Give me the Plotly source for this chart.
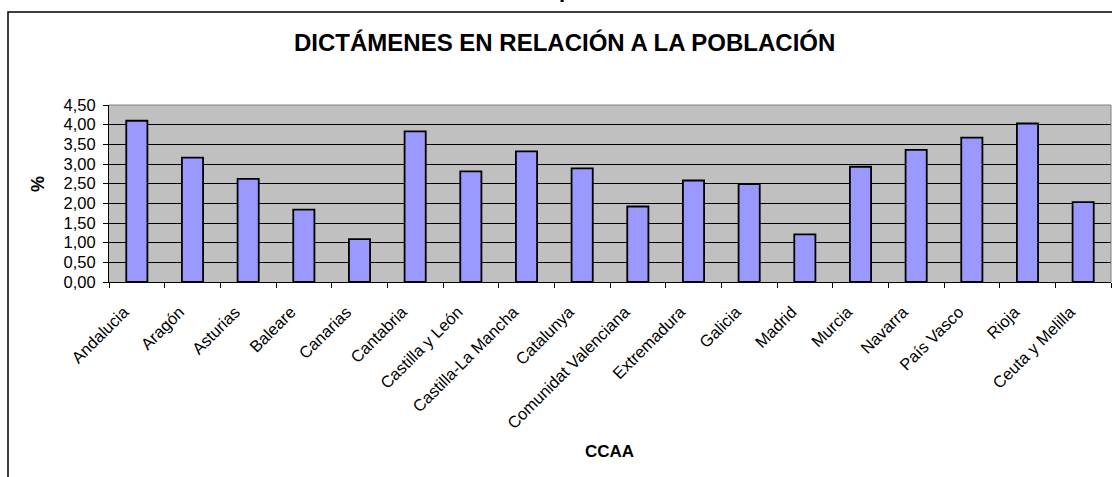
import plotly.graph_objects as go

categories = ["Andalucia", "Aragón", "Asturias", "Baleare", "Canarias", "Cantabria",
              "Castilla y León", "Castilla-La Mancha", "Catalunya", "Comunidat Valenciana",
              "Extremadura", "Galicia", "Madrid", "Murcia", "Navarra", "País Vasco",
              "Rioja", "Ceuta y Melilla"]
values = [4.10, 3.16, 2.62, 1.84, 1.09, 3.83, 2.81, 3.32, 2.89, 1.92,
          2.58, 2.49, 1.21, 2.93, 3.36, 3.67, 4.03, 2.03]
y_ticks = [0, 0.5, 1, 1.5, 2, 2.5, 3, 3.5, 4, 4.5]

W, H = 1112, 477
ML, MR, MT, MB = 109, 1, 105, 195
PW, PH = W - ML - MR, H - MT - MB


def px(x):
    return (x - ML) / PW


def py(y):
    return (H - MB - y) / PH


FONT = "Liberation Sans, Arial, sans-serif"
PAD = "\u00a0" * 4

fig = go.Figure(go.Bar(
    x=categories, y=values, width=0.38,
    marker=dict(color="#9999FF", line=dict(color="black", width=1.8)),
))

fig.update_layout(
    width=W, height=H,
    margin=dict(l=ML, r=MR, t=MT, b=MB, pad=0),
    paper_bgcolor="white", plot_bgcolor="#C0C0C0",
    separators=",.",
    showlegend=False,
    font=dict(family=FONT, color="black"),
    xaxis=dict(
        type="category", range=[-0.5, 17.5], tickangle=-45,
        tickmode="array", tickvals=categories, ticktext=[c + PAD for c in categories],
        tickson="boundaries", ticks="outside", ticklen=5, tickcolor="black",
        showline=True, linecolor="black", linewidth=1,
        showgrid=False, tickfont=dict(family=FONT, size=16.5, color="black"),
        ticklabelstandoff=0,
    ),
    yaxis=dict(
        range=[0, 4.5], tickvals=y_ticks, tickformat=".2f",
        ticks="outside", ticklen=5, tickcolor="black",
        showline=True, linecolor="black", linewidth=1,
        showgrid=True, gridcolor="black", gridwidth=1, zeroline=False,
        tickfont=dict(family=FONT, size=16.5, color="black"),
        ticklabelstandoff=4,
    ),
    shapes=[
        dict(type="path", xref="paper", yref="paper", path="M0,1 L1,1 L1,0",
             line=dict(color="#808080", width=1), layer="above"),
        dict(type="rect", xref="paper", yref="paper",
             x0=px(8), x1=px(1140), y0=py(12), y1=py(500),
             line=dict(color="black", width=1.5), fillcolor="rgba(0,0,0,0)"),
    ],
    annotations=[
        dict(text="<b>DICTÁMENES EN RELACIÓN A LA POBLACIÓN</b>", xref="paper", yref="paper",
             x=px(564), y=py(43), xanchor="center", yanchor="middle", showarrow=False,
             font=dict(family=FONT, size=24, color="black")),
        dict(text="<b>%</b>", xref="paper", yref="paper",
             x=px(38), y=py(184), xanchor="center", yanchor="middle", showarrow=False,
             textangle=-90, font=dict(family=FONT, size=18, color="black")),
        dict(text="<b>CCAA</b>", xref="paper", yref="paper",
             x=px(609), y=py(451), xanchor="center", yanchor="middle", showarrow=False,
             font=dict(family=FONT, size=17, color="black")),
        dict(text="<b>p</b>", xref="paper", yref="paper",
             x=px(557), y=py(4), xanchor="left", yanchor="bottom", showarrow=False,
             font=dict(family=FONT, size=22, color="black")),
    ],
)

fig.write_html("out.html", config={"displayModeBar": False},
               post_script="document.body.style.margin='0';document.body.style.overflow='hidden';")
